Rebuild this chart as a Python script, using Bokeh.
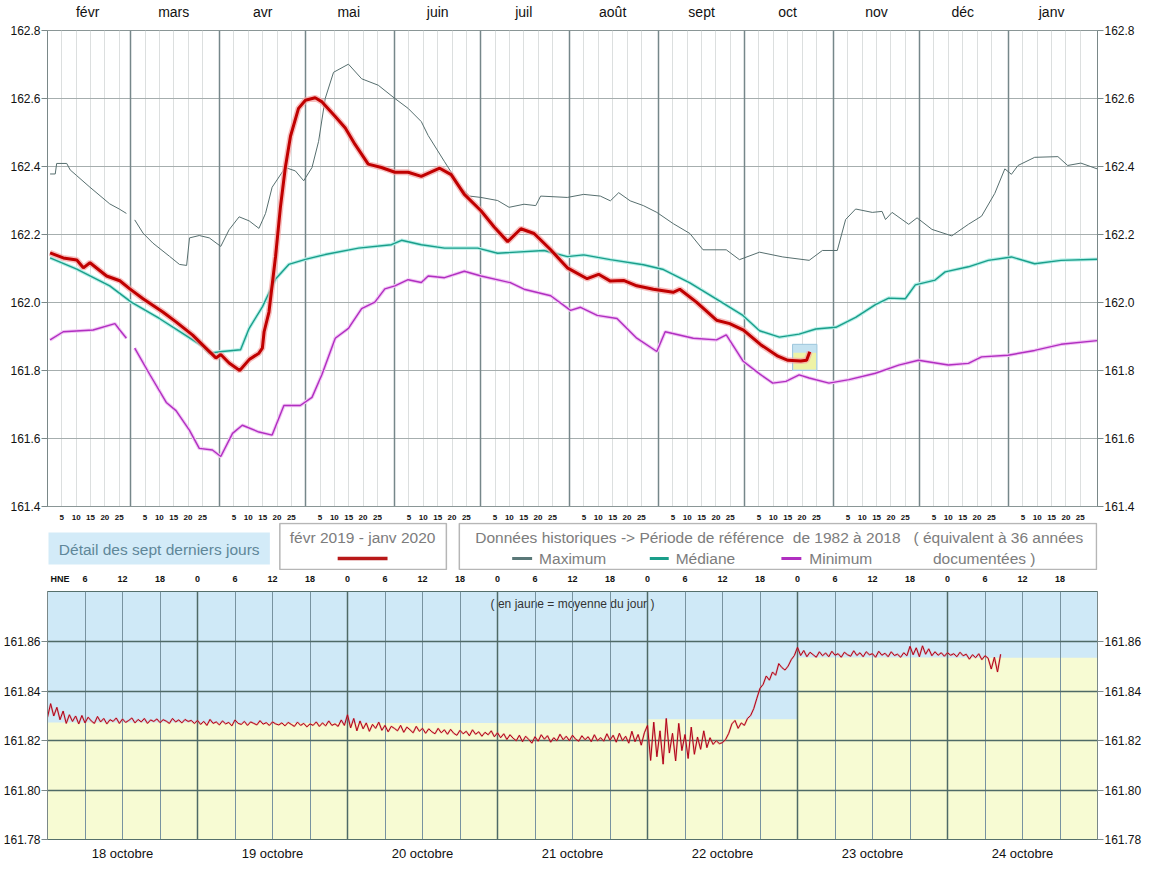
from bokeh.plotting import figure
from bokeh.layouts import column
from bokeh.models import Range1d, LinearAxis, FixedTicker, Grid, PrintfTickFormatter
from bokeh.core.properties import value
from bokeh.embed import file_html
from bokeh.resources import INLINE

nan = float("nan")
FONT = "Liberation Sans"
W = 1144

# ---------------- année févr 2019 - janv 2020 (jour 0 = 1er février, axe sur 366 jours)
mois = ["févr", "mars", "avr", "mai", "juin", "juil", "août", "sept", "oct", "nov", "déc", "janv"]
jours_mois = [29, 31, 30, 31, 30, 31, 31, 30, 31, 30, 31, 31]
jours_graduation = [5, 10, 15, 20, 25]
cotes_y = [161.4, 161.6, 161.8, 162.0, 162.2, 162.4, 162.6, 162.8]

# Maximum historique
max_jour = [0.9, 2.7, 3.2, 6.7, 7.9, 10.2, 14.8, 21.7, 25.0, 27.5, 28.9, 30.4, 33.3, 36.7, 42.5, 46.0,
            48.5, 49.5, 52.9, 56.4, 60.4, 63.3, 66.8, 70.3, 73.7, 76.0, 78.3, 82.9, 86.4, 89.3, 92.2,
            94.5, 96.8, 99.7, 104.9, 109.5, 115.3, 121.1, 125.7, 130.3, 132.7, 138.4, 144.2, 147.1,
            151.1, 156.9, 160.9, 166.1, 170.2, 171.9, 181.2, 186.9, 192.7, 196.2, 199.1, 203.1, 207.7,
            212.4, 218.1, 223.9, 228.5, 236.6, 241.2, 248.2, 256.3, 265.5, 270.1, 275.3, 278.2, 281.7,
            287.5, 290.9, 292.1, 294.4, 300.2, 303.1, 308.3, 315.2, 321.0, 325.6, 330.2, 333.7, 336.0,
            338.3, 344.1, 352.2, 355.6, 360.2, 365.9]
max_cote = [162.378, 162.378, 162.409, 162.409, 162.390, 162.373, 162.339, 162.290, 162.275, 162.262, nan,
            162.243, 162.204, 162.175, 162.136, 162.112, 162.109, 162.190, 162.197, 162.190, 162.165,
            162.214, 162.252, 162.240, 162.218, 162.262, 162.339, 162.397, 162.387, 162.358, 162.397,
            162.474, 162.600, 162.677, 162.701, 162.658, 162.639, 162.600, 162.571, 162.532, 162.491,
            162.414, 162.337, 162.313, 162.309, 162.300, 162.280, 162.289, 162.285, 162.313, 162.309,
            162.318, 162.313, 162.299, 162.323, 162.299, 162.285, 162.265, 162.232, 162.203, 162.155,
            162.155, 162.126, 162.148, 162.134, 162.124, 162.153, 162.153, 162.244, 162.275, 162.265,
            162.268, 162.244, 162.265, 162.230, 162.249, 162.215, 162.196, 162.230, 162.254, 162.321,
            162.393, 162.377, 162.403, 162.427, 162.429, 162.403, 162.410, 162.393]

# Médiane historique
med_jour = [0.9, 10.2, 21.7, 29.2, 39.0, 47.1, 54.1, 56.4, 61.0, 67.3, 70.3, 74.9, 79.5, 84.1, 89.9,
            96.8, 108.4, 119.9, 123.4, 130.3, 138.4, 150.0, 156.9, 173.1, 181.2, 186.9, 196.2, 207.7,
            214.7, 223.9, 233.2, 242.4, 248.2, 255.1, 262.0, 267.8, 274.8, 281.7, 288.6, 293.2, 299.0,
            302.5, 309.4, 312.9, 321.0, 327.9, 336.0, 344.1, 353.3, 365.9]
med_cote = [162.131, 162.098, 162.049, 162.001, 161.953, 161.909, 161.871, 161.851, 161.856, 161.861,
            161.924, 161.987, 162.069, 162.112, 162.127, 162.141, 162.160, 162.170, 162.183, 162.170,
            162.160, 162.160, 162.145, 162.153, 162.135, 162.140, 162.126, 162.111, 162.097, 162.058,
            162.010, 161.962, 161.917, 161.898, 161.907, 161.922, 161.927, 161.956, 161.994, 162.013,
            162.011, 162.052, 162.066, 162.090, 162.105, 162.124, 162.134, 162.114, 162.124, 162.127]

# Minimum historique
min_jour = [0.9, 5.5, 15.9, 23.5, 25.2, 27.5, 28.9, 30.4, 35.6, 41.4, 44.8, 49.5, 52.9, 57.5, 60.4, 64.5,
            67.9, 73.7, 78.3, 82.4, 88.1, 92.2, 95.7, 100.3, 104.9, 109.5, 114.1, 117.6, 121.1, 125.7,
            130.3, 132.7, 138.4, 145.3, 151.1, 161.5, 166.1, 175.4, 182.3, 185.8, 191.6, 198.5, 205.4,
            212.4, 215.3, 225.1, 233.2, 236.6, 242.4, 248.2, 252.8, 257.4, 262.0, 265.5, 272.4, 279.4,
            288.6, 296.7, 303.6, 314.0, 321.0, 325.6, 334.8, 344.1, 353.3, 365.9]
min_cote = [161.890, 161.914, 161.919, 161.938, 161.919, 161.895, nan, 161.866, 161.789, 161.706, 161.682,
            161.624, 161.571, 161.566, 161.547, 161.615, 161.639, 161.619, 161.610, 161.697, 161.697,
            161.721, 161.789, 161.895, 161.924, 161.982, 162.001, 162.040, 162.049, 162.067, 162.059,
            162.078, 162.073, 162.092, 162.078, 162.058, 162.039, 162.020, 161.977, 161.986, 161.962,
            161.953, 161.895, 161.856, 161.914, 161.895, 161.890, 161.905, 161.828, 161.790, 161.763,
            161.768, 161.787, 161.778, 161.763, 161.773, 161.792, 161.816, 161.830, 161.816, 161.821,
            161.840, 161.845, 161.859, 161.877, 161.888]

# Année en cours (févr 2019 - 24 oct 2019)
an_jour = [0.9, 5.5, 10.2, 12.5, 14.8, 20.6, 25.2, 28.7, 33.3, 40.2, 44.8, 50.6, 55.2, 58.7, 60.4, 63.3,
           67.0, 70.3, 73.7, 74.9, 75.5, 77.2, 79.5, 81.2, 82.9, 84.7, 87.5, 89.9, 93.3, 95.7, 100.3,
           103.8, 107.2, 111.8, 116.4, 121.1, 125.7, 130.3, 136.7, 140.7, 145.3, 151.1, 155.7, 160.4,
           165.0, 169.6, 175.4, 181.2, 188.1, 192.1, 196.2, 200.8, 205.4, 211.2, 218.1, 220.4, 226.2,
           233.2, 237.8, 242.6, 248.6, 254.6, 258.1, 262.6, 264.6, 265.7]
an_cote = [162.146, 162.131, 162.125, 162.102, 162.117, 162.078, 162.064, 162.040, 162.011, 161.972,
           161.943, 161.904, 161.866, 161.837, 161.847, 161.822, 161.800, 161.832, 161.851, 161.866,
           161.914, 161.972, 162.136, 162.281, 162.397, 162.489, 162.571, 162.595, 162.602, 162.590,
           162.547, 162.513, 162.465, 162.407, 162.397, 162.383, 162.383, 162.371, 162.395, 162.376,
           162.318, 162.270, 162.222, 162.179, 162.217, 162.203, 162.155, 162.102, 162.070, 162.083,
           162.063, 162.065, 162.049, 162.039, 162.030, 162.039, 162.001, 161.948, 161.938, 161.919,
           161.876, 161.842, 161.830, 161.828, 161.830, 161.855]

# ---------------- sept derniers jours (mesures semi-horaires, 18 octobre 0 h -> 24 octobre 8 h 30)
jours_detail = ["18 octobre", "19 octobre", "20 octobre", "21 octobre", "22 octobre", "23 octobre", "24 octobre"]
oct18 = [161.8295, 161.8350, 161.8300, 161.8335, 161.8285, 161.8320, 161.8270, 161.8305, 161.8278, 161.8300,
         161.8268, 161.8302, 161.8272, 161.8295, 161.8280, 161.8270, 161.8298, 161.8276, 161.8290, 161.8268,
         161.8285, 161.8278, 161.8292, 161.8270, 161.8288, 161.8274, 161.8282, 161.8292, 161.8272, 161.8286,
         161.8276, 161.8290, 161.8270, 161.8284, 161.8278, 161.8288, 161.8273, 161.8285, 161.8279, 161.8270,
         161.8290, 161.8276, 161.8284, 161.8272, 161.8286, 161.8278, 161.8282, 161.8270]
oct19 = [161.8282, 161.8266, 161.8278, 161.8262, 161.8286, 161.8270, 161.8276, 161.8264, 161.8280, 161.8268,
         161.8274, 161.8260, 161.8284, 161.8270, 161.8266, 161.8278, 161.8262, 161.8276, 161.8270, 161.8264,
         161.8281, 161.8267, 161.8273, 161.8262, 161.8276, 161.8268, 161.8264, 161.8272, 161.8260, 161.8274,
         161.8266, 161.8258, 161.8275, 161.8262, 161.8270, 161.8256, 161.8268, 161.8262, 161.8276, 161.8258,
         161.8272, 161.8260, 161.8280, 161.8262, 161.8268, 161.8258, 161.8284, 161.8262]
oct20 = [161.8305, 161.8252, 161.8290, 161.8240, 161.8280, 161.8248, 161.8272, 161.8238, 161.8266, 161.8250,
         161.8275, 161.8242, 161.8262, 161.8236, 161.8258, 161.8250, 161.8240, 161.8262, 161.8234, 161.8255,
         161.8244, 161.8232, 161.8258, 161.8238, 161.8250, 161.8230, 161.8248, 161.8236, 161.8228, 161.8250,
         161.8232, 161.8244, 161.8226, 161.8246, 161.8230, 161.8222, 161.8242, 161.8228, 161.8238, 161.8220,
         161.8244, 161.8226, 161.8236, 161.8218, 161.8234, 161.8224, 161.8240, 161.8216]
oct21 = [161.8232, 161.8212, 161.8228, 161.8205, 161.8224, 161.8210, 161.8200, 161.8222, 161.8196, 161.8218,
         161.8205, 161.8190, 161.8216, 161.8198, 161.8224, 161.8206, 161.8220, 161.8194, 161.8212, 161.8200,
         161.8226, 161.8204, 161.8218, 161.8200, 161.8222, 161.8206, 161.8198, 161.8220, 161.8204, 161.8216,
         161.8196, 161.8224, 161.8200, 161.8212, 161.8198, 161.8228, 161.8202, 161.8222, 161.8194, 161.8230,
         161.8200, 161.8218, 161.8190, 161.8238, 161.8196, 161.8225, 161.8182, 161.8232]
oct22 = [161.8262, 161.8120, 161.8275, 161.8135, 161.8240, 161.8105, 161.8290, 161.8150, 161.8230, 161.8118,
         161.8270, 161.8160, 161.8225, 161.8128, 161.8255, 161.8145, 161.8215, 161.8165, 161.8240, 161.8172,
         161.8212, 161.8185, 161.8200, 161.8188, 161.8192, 161.8205, 161.8230, 161.8268, 161.8282, 161.8250,
         161.8272, 161.8262, 161.8290, 161.8302, 161.8330, 161.8372, 161.8412, 161.8428, 161.8462, 161.8445,
         161.8478, 161.8465, 161.8512, 161.8496, 161.8486, 161.8502, 161.8528, 161.8545]
oct23 = [161.8578, 161.8545, 161.8565, 161.8540, 161.8558, 161.8548, 161.8538, 161.8560, 161.8544, 161.8555,
         161.8540, 161.8562, 161.8546, 161.8552, 161.8538, 161.8558, 161.8548, 161.8542, 161.8564, 161.8545,
         161.8556, 161.8540, 161.8560, 161.8548, 161.8552, 161.8538, 161.8562, 161.8546, 161.8554, 161.8540,
         161.8560, 161.8545, 161.8550, 161.8538, 161.8556, 161.8544, 161.8582, 161.8548, 161.8576, 161.8540,
         161.8584, 161.8550, 161.8572, 161.8544, 161.8560, 161.8546, 161.8556, 161.8542]
oct24 = [161.8556, 161.8546, 161.8552, 161.8540, 161.8558, 161.8544, 161.8550, 161.8530, 161.8548, 161.8536,
         161.8552, 161.8528, 161.8544, 161.8534, 161.8490, 161.8538, 161.8478, 161.8550]
moyenne_jour = [161.8274, 161.8272, 161.8272, 161.8271, 161.8287, 161.8537, 161.8536]
cotes_detail = [161.78, 161.80, 161.82, 161.84, 161.86]

# ======================================================= graphique annuel
debut = [sum(jours_mois[:i]) for i in range(12)]
milieu = [d + n // 2 for d, n in zip(debut, jours_mois)]
petits = [d + j for d in debut for j in jours_graduation]

p = figure(width=W, height=522, x_range=Range1d(0, sum(jours_mois)), y_range=Range1d(161.4, 162.8),
           x_axis_type=None, y_axis_type=None, output_backend="svg", toolbar_location=None,
           min_border_left=46, min_border_right=45, min_border_top=24, min_border_bottom=16)
p.outline_line_color = "#8a9696"
p.border_fill_color = "white"

p.add_layout(Grid(dimension=0, ticker=FixedTicker(ticks=petits), grid_line_color="#dcdfdf"))
p.add_layout(Grid(dimension=1, ticker=FixedTicker(ticks=cotes_y), grid_line_color="#a6aeae"))
p.add_layout(Grid(dimension=0, ticker=FixedTicker(ticks=debut[1:]), grid_line_color="#76878a",
                  grid_line_width=1.5))


def axe_cotes(ticks, fmt):
    return LinearAxis(ticker=FixedTicker(ticks=ticks), formatter=PrintfTickFormatter(format=fmt),
                      major_tick_out=6, major_tick_in=0, minor_tick_line_color=None,
                      major_tick_line_color="#7a8888", axis_line_color="#7a8888",
                      major_label_standoff=1, major_label_text_font=FONT,
                      major_label_text_font_size="12px", major_label_text_color="#111111")


p.add_layout(axe_cotes(cotes_y, "%.1f"), "left")
p.add_layout(axe_cotes(cotes_y, "%.1f"), "right")

ax_mois = LinearAxis(ticker=FixedTicker(ticks=milieu),
                     major_label_overrides={m: n for m, n in zip(milieu, mois)},
                     major_tick_line_color=None, minor_tick_line_color=None, axis_line_color=None,
                     major_label_standoff=5, major_label_text_font=FONT,
                     major_label_text_font_size="14px", major_label_text_color="#111111")
p.add_layout(ax_mois, "above")

ax_jours = LinearAxis(ticker=FixedTicker(ticks=petits),
                      major_label_overrides={d + j: str(j) for d in debut for j in jours_graduation},
                      major_tick_line_color=None, minor_tick_line_color=None, axis_line_color="#8a9696",
                      major_label_standoff=2, major_label_text_font=FONT,
                      major_label_text_font_size="8px", major_label_text_font_style="bold",
                      major_label_text_color="#111111")
p.add_layout(ax_jours, "below")

p.line(max_jour, max_cote, line_color="#566e6e", line_width=1)
p.line(med_jour, med_cote, line_color="#b6efe8", line_width=3.5)
p.line(med_jour, med_cote, line_color="#1a9e8a", line_width=1.4)
p.line(min_jour, min_cote, line_color="#f2c6f5", line_width=3.5)
p.line(min_jour, min_cote, line_color="#b02fc0", line_width=1.4)

# fenêtre des sept derniers jours
sem_debut = debut[8] + 17
sem_fin = sem_debut + len(jours_detail)
p.quad(left=[sem_debut - 0.3], right=[sem_fin + 1.2], bottom=[cotes_detail[1]], top=[161.877],
       fill_color="#c4e2f0", line_color="#9cc6dc", line_width=1)
p.quad(left=[sem_debut], right=[sem_fin + 0.9], bottom=[cotes_detail[1] + 0.003], top=[161.852],
       fill_color="#eef3a6", line_color=None)

p.line(an_jour, an_cote, line_color="#f4a4a4", line_width=6, line_alpha=0.7)
p.line(an_jour, an_cote, line_color="#c00000", line_width=3)

# ======================================================= légendes (coordonnées en pixels de la figure)
leg = figure(width=W, height=48, x_range=Range1d(46, W - 45), y_range=Range1d(48, 0),
             x_axis_type=None, y_axis_type=None, output_backend="svg", toolbar_location=None,
             min_border_left=46, min_border_right=45, min_border_top=0, min_border_bottom=0,
             outline_line_color=None)
txt = dict(text_font=value(FONT), text_font_size="15.5px", text_color="#7c7c7c", text_baseline="middle")
nb = "\u00a0"

leg.quad(left=[47], right=[269], top=[10], bottom=[42], fill_color="#d3ebf8", line_color=None)
leg.text(x=[158], y=[27], text=["Détail des sept derniers jours"], text_align="center",
         **dict(txt, text_color="#5f8799"))

leg.quad(left=[279, 459], right=[446, 1098], top=[1, 1], bottom=[47, 47], fill_color="white",
         line_color="#b6b6b6", line_width=1.5)
leg.text(x=[362], y=[15], text=["févr 2019 - janv 2020"], text_align="center", **txt)
leg.line(x=[337, 387], y=[36, 36], line_color="#b81818", line_width=3.5)

leg.text(x=[475], y=[15], text=["Données historiques -> Période de référence" + nb * 2 + "de 1982 à 2018"
                                + nb * 3 + "( équivalent à 36 années"], text_align="left", **txt)
leg.segment(x0=[512, 650, 782], x1=[532, 669, 802], y0=[36, 36, 36], y1=[36, 36, 36],
            line_color=["#5a7878", "#1a9e8a", "#b02fc0"], line_width=3)
leg.text(x=[539, 676, 810, 934], y=[36, 36, 36, 36],
         text=["Maximum", "Médiane", "Minimum", "documentées )"], text_align="left", **txt)

# ======================================================= détail sept jours
cotes = oct18 + oct19 + oct20 + oct21 + oct22 + oct23 + oct24
heures = [i / 2 for i in range(len(cotes))]
jour_g = [24 * i for i in range(len(jours_detail))]

q = figure(width=W, height=293, x_range=Range1d(0, 24 * len(jours_detail)), y_range=Range1d(161.78, 161.8804),
           x_axis_type=None, y_axis_type=None, output_backend="svg", toolbar_location=None,
           min_border_left=46, min_border_right=45, min_border_top=14, min_border_bottom=16)
q.background_fill_color = "#cfe9f7"
q.border_fill_color = "white"
q.outline_line_color = "#56706c"

q.quad(left=jour_g, right=[g + 24 for g in jour_g], bottom=cotes_detail[0], top=moyenne_jour,
       fill_color="#f7fbd3", line_color=None, level="image")
q.text(x=[84], y=[161.8804], text=["( en jaune = moyenne du jour )"], text_align="center",
       text_baseline="top", y_offset=5, text_font=value(FONT), text_font_size="12px",
       text_color="#333333", level="image")

six_h = list(range(6, 168, 6))
q.add_layout(Grid(dimension=0, ticker=FixedTicker(ticks=[h for h in six_h if h % 24]),
                  grid_line_color="#7893a0"))
q.add_layout(Grid(dimension=0, ticker=FixedTicker(ticks=jour_g[1:]), grid_line_color="#4f6a66",
                  grid_line_width=1.5))
q.add_layout(Grid(dimension=1, ticker=FixedTicker(ticks=cotes_detail[1:]), grid_line_color="#4f6a66",
                  grid_line_width=1.5))

q.add_layout(axe_cotes(cotes_detail, "%.2f"), "left")
q.add_layout(axe_cotes(cotes_detail, "%.2f"), "right")

etiq_h = {h: str(h % 24) for h in six_h}
etiq_h[2] = "HNE"
ax_h = LinearAxis(ticker=FixedTicker(ticks=[2] + six_h), major_label_overrides=etiq_h,
                  major_tick_line_color=None, minor_tick_line_color=None, axis_line_color=None,
                  major_label_standoff=2, major_label_text_font=FONT, major_label_text_font_size="9px",
                  major_label_text_font_style="bold", major_label_text_color="#111111")
q.add_layout(ax_h, "above")

ax_j = LinearAxis(ticker=FixedTicker(ticks=[g + 12 for g in jour_g]),
                  major_label_overrides={g + 12: n for g, n in zip(jour_g, jours_detail)},
                  major_tick_line_color=None, minor_tick_line_color=None, axis_line_color="#56706c",
                  major_label_standoff=0, major_label_text_font=FONT, major_label_text_font_size="13px",
                  major_label_text_color="#111111")
q.add_layout(ax_j, "below")

q.line(heures, cotes, line_color="#e07070", line_width=2.0, line_alpha=0.45)
q.line(heures, cotes, line_color="#b00018", line_width=1.0)

layout = column(p, leg, q, spacing=0)
open("out.html", "w").write(file_html(layout, INLINE))
